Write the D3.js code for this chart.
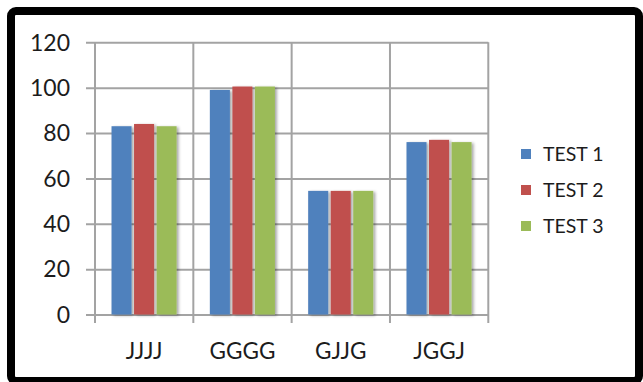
<!DOCTYPE html>
<html>
<head>
<meta charset="utf-8">
<script src="https://cdn.jsdelivr.net/npm/d3@7"></script>
<style>
  html, body { margin: 0; padding: 0; background: #fff; }
  svg { display: block; }
  text { font-family: Lato, "Open Sans", sans-serif; fill: #1c1c1c; }
</style>
</head>
<body>
<svg id="chart" width="643" height="382"></svg>
<script>
// Category labels along the x axis
const categories = ["JJJJ", "GGGG", "GJJG", "JGGJ"];
// Series names (legend order)
const seriesNames = ["TEST 1", "TEST 2", "TEST 3"];
// Values per series, one per category
const test1 = [83, 99, 54.5, 76];
const test2 = [84, 100.5, 54.5, 77];
const test3 = [83, 100.5, 54.5, 76];
// Y axis ticks
const yTicks = [0, 20, 40, 60, 80, 100, 120];
const seriesColors = ["#4F81BD", "#C0504D", "#9BBB59"];

const seriesValues = [test1, test2, test3];
const rows = categories.map((c, i) => ({
  category: c,
  values: seriesNames.map((s, k) => ({ series: s, value: seriesValues[k][i] }))
}));

const svg = d3.select("#chart");

// Drop shadow for the bars
const defs = svg.append("defs");
const f = defs.append("filter").attr("id", "barShadow")
  .attr("x", "-20%").attr("y", "-5%").attr("width", "160%").attr("height", "115%");
f.append("feGaussianBlur").attr("in", "SourceAlpha").attr("stdDeviation", 1.6).attr("result", "b");
f.append("feOffset").attr("in", "b").attr("dx", 2).attr("dy", 1).attr("result", "o");
f.append("feComponentTransfer").attr("in", "o").attr("result", "s")
  .append("feFuncA").attr("type", "linear").attr("slope", 0.35);
const m = f.append("feMerge");
m.append("feMergeNode").attr("in", "s");
m.append("feMergeNode").attr("in", "SourceGraphic");

// Plot area geometry
const plotLeft = 95, plotRight = 488.3, plotTop = 42.3, plotBottom = 314.5;

const x0 = d3.scaleBand().domain(categories).range([plotLeft, plotRight]).padding(0);
const x1 = d3.scaleBand().domain(seriesNames)
  .range([x0.bandwidth() * 0.168, x0.bandwidth() * 0.83]).paddingInner(0.11);
const y = d3.scaleLinear().domain([0, 120]).range([plotBottom, plotTop]);

const gridColor = "#a3a3a3";

// Horizontal gridlines with left tick marks
const yAxis = d3.axisLeft(y).tickValues(yTicks).tickSize(-(plotRight - plotLeft + 9)).tickFormat("");
svg.append("g")
  .attr("transform", `translate(${plotLeft - 9},0)`)
  .call(yAxis)
  .call(g => g.select(".domain").remove())
  .call(g => g.selectAll(".tick line").attr("stroke", gridColor).attr("stroke-width", 2));

// Vertical gridlines at category boundaries, extending below the axis as ticks
const bounds = categories.map(c => x0(c)).concat([plotRight]);
svg.append("g").selectAll("line").data(bounds).join("line")
  .attr("x1", d => d).attr("x2", d => d)
  .attr("y1", plotTop).attr("y2", plotBottom + 8.5)
  .attr("stroke", gridColor).attr("stroke-width", 2);

// Y tick labels
svg.append("g").selectAll("text").data(yTicks).join("text")
  .attr("x", 70).attr("y", d => y(d))
  .attr("dy", "0.36em")
  .attr("text-anchor", "end")
  .attr("font-size", 23)
  .text(d => d);

// Bars
const groups = svg.append("g").selectAll("g").data(rows).join("g")
  .attr("transform", d => `translate(${x0(d.category)},0)`);
groups.selectAll("rect").data(d => d.values).join("rect")
  .attr("x", d => x1(d.series))
  .attr("width", x1.bandwidth())
  .attr("y", d => y(d.value))
  .attr("height", d => y(0) - y(d.value))
  .attr("fill", (d, i) => seriesColors[i])
  .attr("filter", "url(#barShadow)");

// Category labels
svg.append("g").selectAll("text").data(categories).join("text")
  .attr("x", d => x0(d) + x0.bandwidth() / 2)
  .attr("y", 359)
  .attr("text-anchor", "middle")
  .attr("font-size", 22.5)
  .text(d => d);

// Legend
const legend = svg.append("g").selectAll("g").data(seriesNames).join("g")
  .attr("transform", (d, i) => `translate(521,${154 + i * 36})`);
legend.append("rect")
  .attr("x", 0).attr("y", -5).attr("width", 10).attr("height", 10)
  .attr("fill", (d, i) => seriesColors[i]);
legend.append("text")
  .attr("x", 22).attr("y", 0).attr("dy", "0.36em")
  .attr("font-size", 19.5)
  .text(d => d);

// Outer frame
svg.append("rect")
  .attr("x", 11).attr("y", 11).attr("width", 628).attr("height", 370)
  .attr("rx", 5)
  .attr("fill", "none").attr("stroke", "#000").attr("stroke-width", 8);
</script>
</body>
</html>
